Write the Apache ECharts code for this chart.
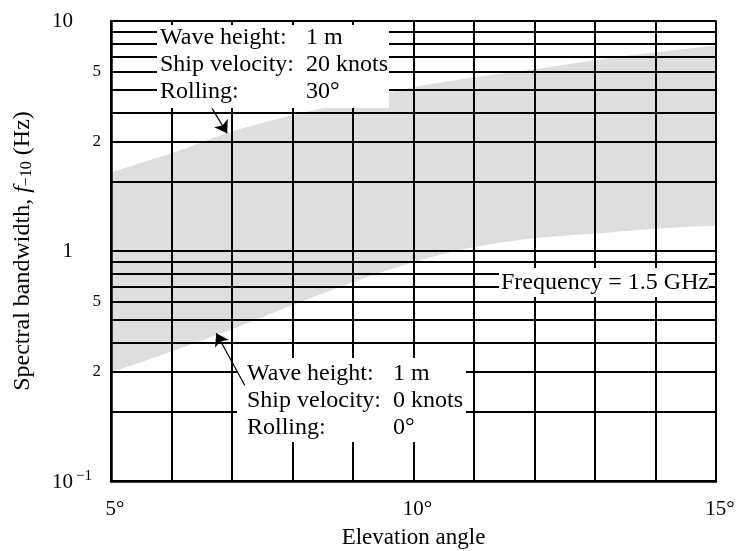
<!DOCTYPE html>
<html>
<head>
<meta charset="utf-8">
<script src="https://cdn.jsdelivr.net/npm/echarts@6/dist/echarts.min.js"></script>
<style>
html,body{margin:0;padding:0;background:#fff;}
#main{width:736px;height:551px;}
</style>
</head>
<body>
<div id="main"></div>
<script>
// elevation angle (deg) and band edges of the spectral bandwidth (Hz)
var angles  = [5, 6, 7, 8, 9, 10, 11, 12, 13, 14, 15];
var upperBw = [2.20, 2.66, 3.31, 3.89, 4.48, 5.15, 5.69, 6.17, 6.75, 7.31, 7.83];
var lowerBw = [0.297, 0.366, 0.457, 0.581, 0.731, 0.893, 1.04, 1.135, 1.19, 1.25, 1.29];

// log grid lines between decades
var minorLines = [0.2, 0.3, 0.4, 0.5, 0.6, 0.7, 0.8, 0.9, 2, 3, 4, 5, 6, 7, 8, 9];
// small labels as they sit in the original figure
var minorLabelAt   = [6, 3, 0.6, 0.3];
var minorLabelText = ['5', '2', '5', '2'];
var xTickText = {5: '5°', 10: '10°', 15: '15°'};

// arrows: [tail, tip] in data coords
var arrowTop = [[6.67, 4.17], [6.92, 3.25]];
var arrowLow = [[7.21, 0.261], [6.74, 0.439]];

var serif = 'Liberation Serif';
var chart = echarts.init(document.getElementById('main'));

var minorData = minorLines.map(function (v) {
    var k = minorLabelAt.indexOf(v);
    return {
        yAxis: v,
        label: k < 0 ? {show: false} : {
            show: true, position: 'start', distance: 10, formatter: minorLabelText[k],
            fontFamily: serif, fontSize: 17, color: '#000'
        }
    };
});

function boxText(x, y, str) {
    return {type: 'text', x: x, y: y, z: 11, silent: true,
        style: {text: str, fontFamily: serif, fontSize: 24, fill: '#000', verticalAlign: 'middle', align: 'left'}};
}

var option = {
    backgroundColor: '#fff',
    animation: false,
    grid: {left: 111, right: 20, top: 21, bottom: 70, outerBoundsMode: 'none', containLabel: false},
    xAxis: [{
        type: 'value', min: 5, max: 15, interval: 1, z: 3,
        axisLine: {show: true, lineStyle: {color: '#000', width: 2.5}},
        axisTick: {show: false},
        splitLine: {show: true, lineStyle: {color: '#000', width: 2}},
        axisLabel: {
            margin: 18, fontFamily: serif, fontSize: 21, color: '#000', padding: [0, 0, 0, 8],
            formatter: function (v) { return xTickText[v] || ''; }
        },
        name: 'Elevation angle', nameLocation: 'middle', nameGap: 45,
        nameTextStyle: {fontFamily: serif, fontSize: 23, color: '#000'}
    }, {
        type: 'value', min: 5, max: 15, interval: 1, position: 'top', z: 12,
        axisLine: {show: true, lineStyle: {color: '#000', width: 2}},
        axisTick: {show: true, inside: true, length: 4, lineStyle: {color: '#000', width: 2}},
        axisLabel: {show: false},
        splitLine: {show: false}
    }],
    yAxis: {
        type: 'log', logBase: 10, min: 0.1, max: 10, z: 3,
        axisLine: {show: true, lineStyle: {color: '#000', width: 2.5}},
        axisTick: {show: false},
        splitLine: {show: true, lineStyle: {color: '#000', width: 2}},
        axisLabel: {
            margin: 19, color: '#000', fontFamily: serif,
            formatter: function (v) {
                if (v >= 9.99) return '{n|10}{sp|}';
                if (v > 0.99 && v < 1.01) return '{n|1}{sp|}';
                return '{n|10}{sup|−1}';
            },
            rich: {
                n: {fontFamily: serif, fontSize: 21, color: '#000', verticalAlign: 'bottom'},
                sp: {width: 19},
                sup: {fontFamily: serif, fontSize: 15, color: '#000', width: 19, verticalAlign: 'bottom', padding: [0, 0, 9, 0]}
            }
        },
        name: '{n|Spectral bandwidth, }{i|f}{s|−10}{n| (Hz)}',
        nameLocation: 'middle', nameGap: 76,
        nameTextStyle: {
            rich: {
                n: {fontFamily: serif, fontSize: 24, color: '#000', lineHeight: 24, verticalAlign: 'top'},
                i: {fontFamily: serif, fontSize: 24, fontStyle: 'italic', color: '#000', lineHeight: 24, verticalAlign: 'top'},
                s: {fontFamily: serif, fontSize: 16, color: '#000', lineHeight: 16, verticalAlign: 'bottom', padding: [9, 0, 0, 0]}
            }
        }
    },
    series: [{
        // grey from the upper edge down to the axis
        name: 'upper', type: 'line', z: 1, symbol: 'none', smooth: 0.3,
        lineStyle: {width: 0},
        areaStyle: {color: '#dedede', opacity: 1, origin: 'start'},
        data: angles.map(function (a, i) { return [a, upperBw[i]]; })
    }, {
        // white below the lower edge, grid is drawn on top anyway
        name: 'lower', type: 'line', z: 2, symbol: 'none', smooth: 0.3,
        lineStyle: {width: 0},
        areaStyle: {color: '#fff', opacity: 1, origin: 'start'},
        data: angles.map(function (a, i) { return [a, lowerBw[i]]; })
    }, {
        name: 'minor', type: 'line', z: 4, data: [],
        markLine: {
            silent: true, z: 4, symbol: ['none', 'none'], animation: false,
            lineStyle: {color: '#000', width: 2, type: 'solid'},
            data: minorData
        }
    }, {
        name: 'arrows', type: 'line', z: 20, data: [],
        markLine: {
            silent: true, z: 20, symbol: ['none', 'arrow'], symbolSize: 12, animation: false,
            lineStyle: {color: '#000', width: 1.2, type: 'solid'},
            label: {show: false},
            data: [
                [{coord: arrowTop[0]}, {coord: arrowTop[1]}],
                [{coord: arrowLow[0]}, {coord: arrowLow[1]}]
            ]
        }
    }],
    graphic: [
        {type: 'rect', z: 10, silent: true, shape: {x: 157, y: 23, width: 232, height: 85}, style: {fill: '#fff'}},
        boxText(160, 38, 'Wave height:'), boxText(306, 38, '1 m'),
        boxText(160, 65, 'Ship velocity:'), boxText(306, 65, '20 knots'),
        boxText(160, 92, 'Rolling:'), boxText(306, 92, '30°'),

        {type: 'rect', z: 10, silent: true, shape: {x: 237, y: 358, width: 229, height: 84}, style: {fill: '#fff'}},
        boxText(247, 374, 'Wave height:'), boxText(393, 374, '1 m'),
        boxText(247, 401, 'Ship velocity:'), boxText(393, 401, '0 knots'),
        boxText(247, 428, 'Rolling:'), boxText(393, 428, '0°'),

        {type: 'rect', z: 10, silent: true, shape: {x: 499, y: 268, width: 210, height: 29}, style: {fill: '#fff'}},
        boxText(501, 283, 'Frequency = 1.5 GHz')
    ]
};
chart.setOption(option);
</script>
</body>
</html>
